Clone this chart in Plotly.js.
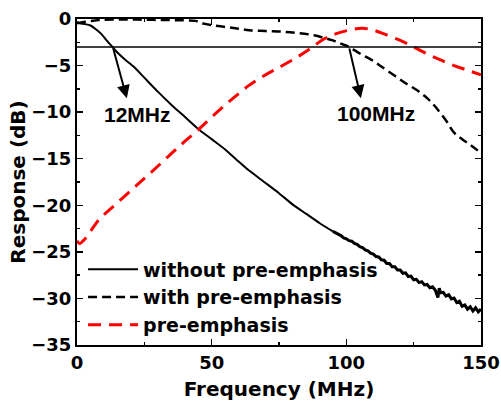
<!DOCTYPE html>
<html>
<head>
<meta charset="utf-8">
<script src="https://cdn.plot.ly/plotly-3.0.1.min.js"></script>
<style>html,body{margin:0;padding:0;background:#fff}#chart{width:501px;height:401px}</style>
</head>
<body>
<div id="chart"></div>
<script>
// Without pre-emphasis (smooth part)
const fWithout = [0, 1, 3, 5, 7, 9, 11, 13, 15, 18, 21, 25, 30, 35, 40, 45, 50, 55, 60, 64, 70, 75, 80, 85, 90, 95];
const dbWithout = [-0.3, -0.45, -0.55, -0.7, -1.1, -1.6, -2.3, -2.95, -3.6, -4.4, -5.1, -6.3, -7.8, -9.2, -10.5, -11.8, -12.9, -14.0, -15.3, -16.3, -17.6, -18.7, -19.9, -20.9, -21.9, -22.8];
// Without pre-emphasis (noisy high-frequency part)
const fWithoutNoisy = [95, 96, 97, 98, 99, 100, 101, 102, 103, 104, 105, 106, 107, 108, 109, 110, 111, 112, 113, 114, 115, 116, 117, 118, 119, 120, 121, 122, 123, 124, 125, 126, 127, 128, 129, 130, 131, 132, 133, 134, 134.5, 135, 136, 137, 138, 139, 140, 141, 142, 143, 144, 145, 146, 147, 148, 149, 150];
const dbWithoutNoisy = [-22.8, -22.95, -23.15, -23.25, -23.5, -23.6, -23.8, -23.85, -24.1, -24.2, -24.45, -24.55, -24.8, -24.9, -25.15, -25.25, -25.5, -25.55, -25.85, -25.9, -26.25, -26.25, -26.6, -26.6, -26.95, -26.95, -27.3, -27.25, -27.65, -27.6, -28.0, -27.95, -28.3, -28.2, -28.55, -28.5, -28.85, -28.75, -29.1, -29.9, -28.9, -29.4, -29.35, -29.75, -29.6, -30.05, -29.95, -30.45, -30.3, -30.85, -30.7, -31.15, -30.9, -31.35, -31.0, -31.45, -31.15];
// With pre-emphasis
const fWith = [0, 2, 4, 6, 8, 10, 15, 20, 25, 30, 35, 40, 44, 47, 50, 55, 60, 64, 70, 76, 82, 88, 92, 95, 98, 101, 105, 110, 113, 118, 122, 126, 130, 133, 137, 140, 143, 146, 150];
const dbWith = [-0.45, -0.35, -0.25, -0.18, -0.12, -0.08, -0.05, -0.05, -0.08, -0.1, -0.12, -0.15, -0.2, -0.5, -0.65, -0.85, -1.05, -1.2, -1.3, -1.36, -1.5, -1.75, -2.05, -2.3, -2.65, -3.0, -3.7, -4.5, -5.1, -6.1, -6.9, -7.6, -8.5, -9.4, -10.9, -12.2, -12.9, -13.5, -14.4];
// Pre-emphasis
const fPre = [0, 1, 3, 5, 8, 12, 17, 22, 27, 33, 39, 45, 52, 58, 64, 70, 76, 82, 86, 92, 96, 101, 106, 110, 114, 120, 125, 130, 135, 140, 145, 150];
const dbPre = [-23.8, -24.1, -23.6, -22.8, -21.6, -20.5, -19.2, -17.9, -16.6, -15.0, -13.4, -11.9, -10.0, -8.5, -7.1, -6.0, -5.05, -4.05, -3.3, -2.1, -1.6, -1.2, -1.0, -1.2, -1.6, -2.3, -3.0, -3.75, -4.4, -5.0, -5.5, -6.0];
// -3 dB reference
const threshold = -3;
const seriesNames = ['without pre-emphasis', 'with pre-emphasis', 'pre-emphasis'];
const markerLabels = ['12MHz', '100MHz'];
const markerFreqs = [13.3, 101];

const FONT = 'DejaVu Sans, Arial, sans-serif';
const AFONT = 'Liberation Sans, Arial, sans-serif';

const traces = [
  {x: fWithout, y: dbWithout, mode: 'lines', name: seriesNames[0], legendgroup: 'a',
   line: {color: '#000', width: 2, shape: 'spline', smoothing: 0.6}},
  {x: fWithoutNoisy, y: dbWithoutNoisy, mode: 'lines', name: seriesNames[0], legendgroup: 'a', showlegend: false,
   line: {color: '#000', width: 3}},
  {x: fWith, y: dbWith, mode: 'lines', name: seriesNames[1],
   line: {color: '#000', width: 2.5, dash: '9px,5px', shape: 'spline'}},
  {x: fPre, y: dbPre, mode: 'lines', name: seriesNames[2],
   line: {color: '#ff0000', width: 3, dash: '13px,8px', shape: 'spline'}},
  {x: [0, 150], y: [threshold, threshold], mode: 'lines', showlegend: false, hoverinfo: 'skip',
   line: {color: '#000', width: 1.5}}
];

const axisCommon = {
  showline: true, linecolor: '#000', linewidth: 2, mirror: 'ticks',
  ticks: 'inside', ticklen: 6, tickwidth: 1.5, tickcolor: '#000',
  showgrid: false, zeroline: false, ticklabeloverflow: 'allow',
  tickfont: {family: FONT, size: 18, color: '#000', weight: 'bold'}
};

const layout = {
  width: 501, height: 401,
  margin: {l: 77, r: 20, t: 19, b: 56},
  paper_bgcolor: '#fff', plot_bgcolor: '#fff',
  showlegend: true,
  legend: {x: 0.015, y: 0.29, xanchor: 'left', yanchor: 'top', bgcolor: 'rgba(0,0,0,0)',
    font: {family: FONT, size: 19, color: '#000', weight: 'bold'}, itemwidth: 50, tracegroupgap: 0},
  xaxis: Object.assign({}, axisCommon, {
    range: [0, 150], dtick: 50, tick0: 0,
    minor: {dtick: 25, ticks: 'inside', ticklen: 3, tickwidth: 1.5, tickcolor: '#000'},
    title: {text: 'Frequency (MHz)', font: {family: FONT, size: 20, color: '#000', weight: 'bold'}, standoff: 10}
  }),
  yaxis: Object.assign({}, axisCommon, {
    range: [-35, 0], dtick: 5, tick0: 0,
    minor: {dtick: 2.5, ticks: 'inside', ticklen: 3, tickwidth: 1.5, tickcolor: '#000'},
    title: {text: 'Response (dB)', font: {family: FONT, size: 20, color: '#000', weight: 'bold'}, standoff: 0}
  }),
  annotations: [
    {x: markerFreqs[0] + 5.2, y: threshold - 5.5, ax: markerFreqs[0], ay: threshold, axref: 'x', ayref: 'y',
     showarrow: true, arrowhead: 2, arrowsize: 1.3, arrowwidth: 2, arrowcolor: '#000', text: ''},
    {x: markerFreqs[1] + 4.4, y: threshold - 5.5, ax: markerFreqs[1], ay: threshold, axref: 'x', ayref: 'y',
     showarrow: true, arrowhead: 2, arrowsize: 1.3, arrowwidth: 2, arrowcolor: '#000', text: ''},
    {x: 22.6, y: -10.3, text: markerLabels[0], showarrow: false,
     font: {family: AFONT, size: 21, color: '#000', weight: 'bold'}},
    {x: 111, y: -10.1, text: markerLabels[1], showarrow: false,
     font: {family: AFONT, size: 21, color: '#000', weight: 'bold'}}
  ]
};

Plotly.newPlot('chart', traces, layout, {displayModeBar: false, staticPlot: true});
</script>
</body>
</html>
